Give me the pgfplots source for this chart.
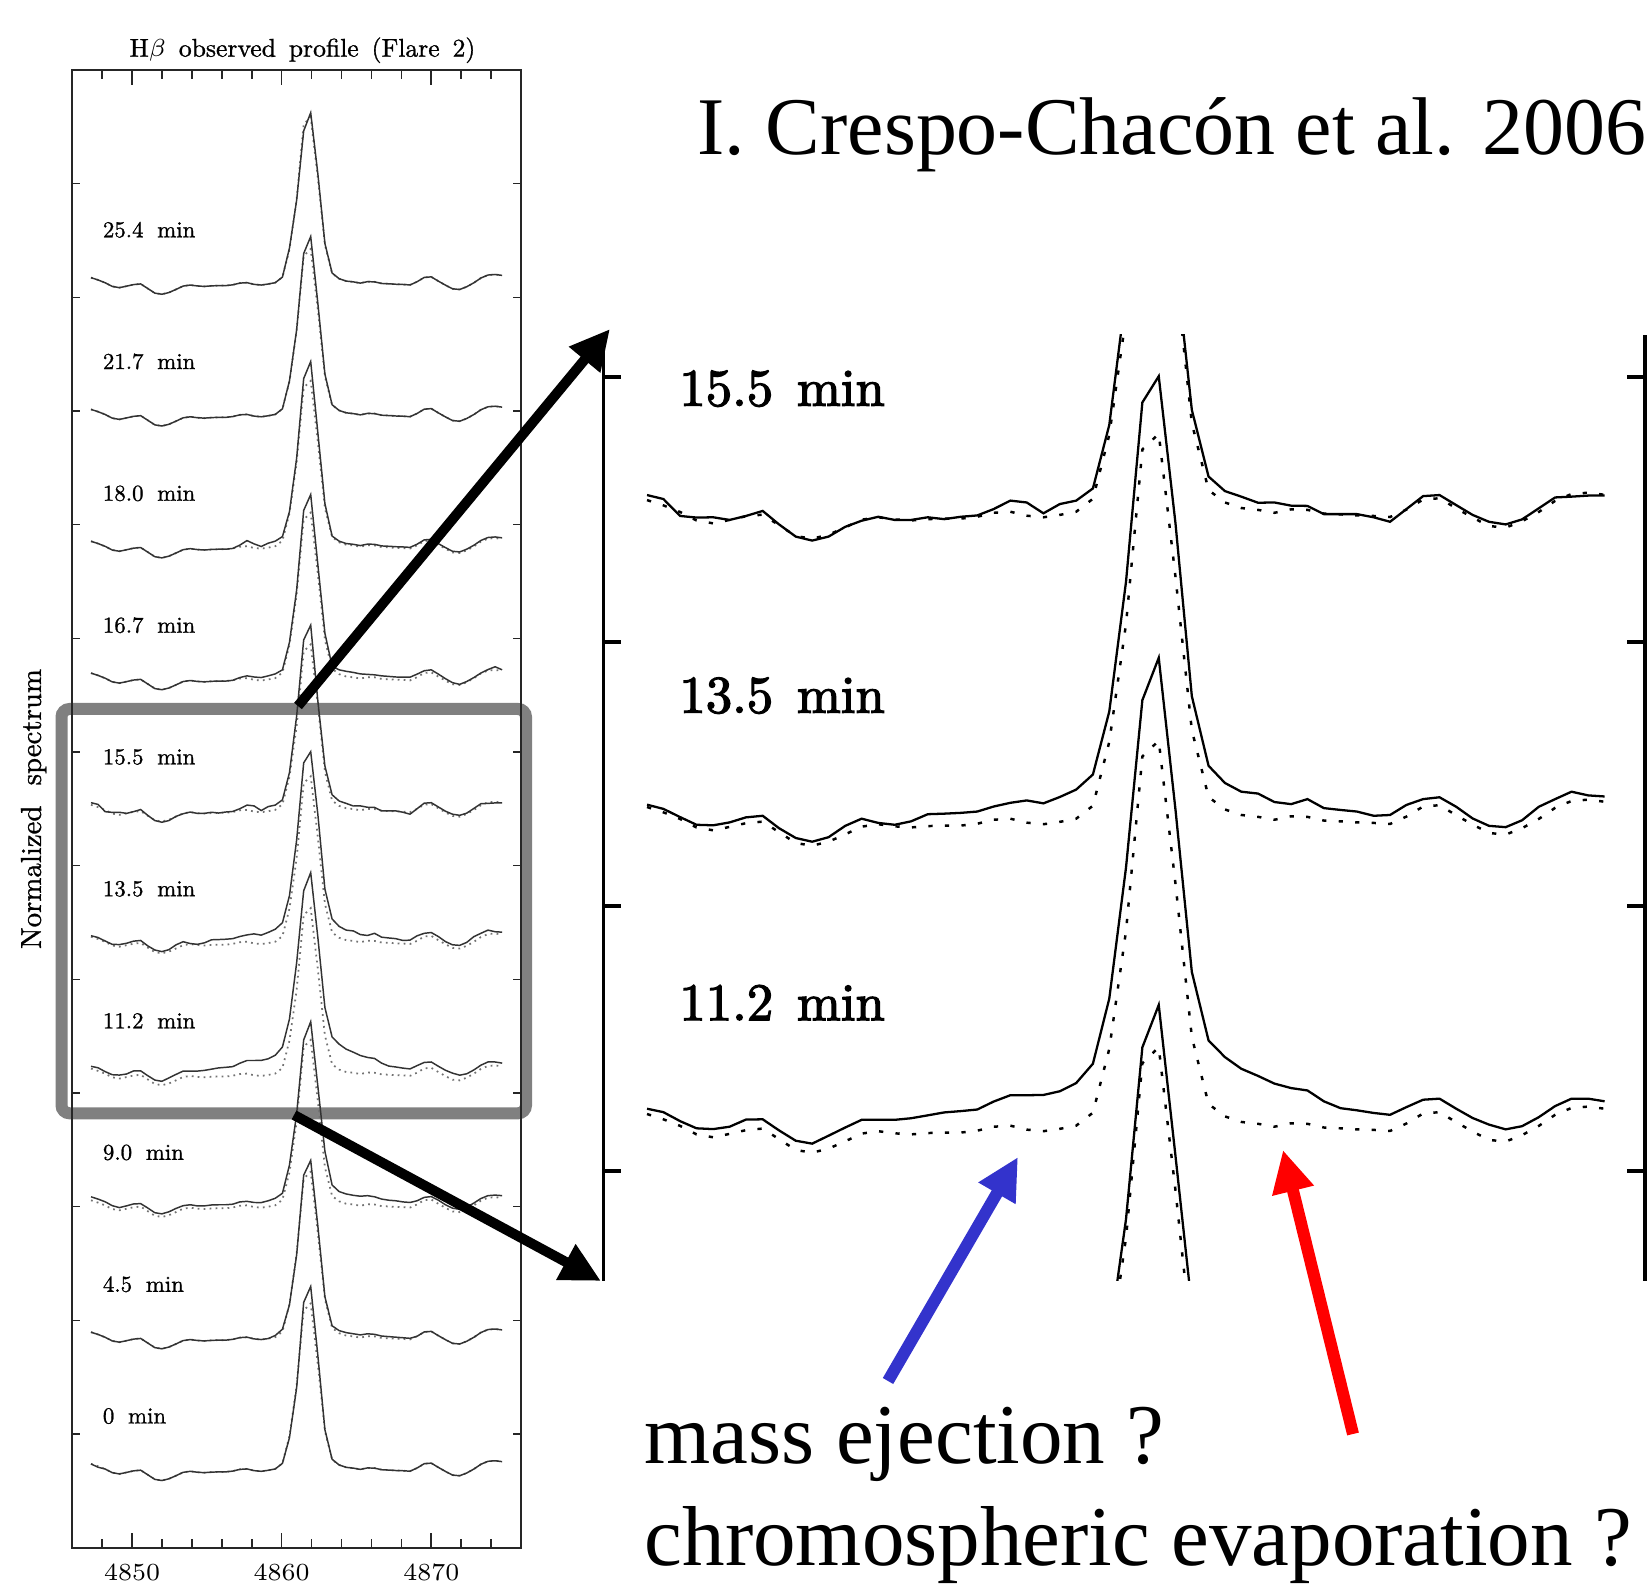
\documentclass[border=0pt]{standalone}
\usepackage{fontspec}
\usepackage{pgfplots}
\pgfplotsset{compat=1.18}
\usepackage{pgfplotstable}
\usetikzlibrary{arrows.meta}
\newfontfamily\timesfont{Liberation Serif}
\newfontfamily\heavylm{lmroman10-regular.otf}[FakeBold=2.5]
\newfontfamily\semilm{lmroman10-regular.otf}[FakeBold=1]
\definecolor{myblue}{RGB}{51,51,204}
\definecolor{boxgray}{RGB}{128,128,128}

\pgfplotstableread{
x d s0 s45 s90 s112 s135 s155 s167 s180 s217 s254
4847.25 0.069 0.069 0.069 0.100 0.089 0.078 0.088 0.069 0.069 0.069 0.069
4847.72 0.049 0.040 0.049 0.080 0.076 0.062 0.073 0.049 0.049 0.049 0.049
4848.20 0.024 0.024 0.024 0.056 0.042 0.031 0.009 0.024 0.024 0.024 0.024
4848.67 -0.008 -0.008 -0.008 0.022 0.015 0.002 0.003 -0.008 -0.008 -0.008 -0.008
4849.15 -0.019 -0.019 -0.019 0.005 0.012 0.000 0.004 -0.019 -0.019 -0.019 -0.019
4849.62 -0.006 -0.006 -0.006 0.020 0.021 0.011 -0.006 -0.006 -0.006 -0.006 -0.006
4850.09 0.008 0.008 0.008 0.037 0.048 0.030 0.009 0.008 0.008 0.008 0.008
4850.57 0.014 0.014 0.014 0.040 0.049 0.036 0.028 0.014 0.014 0.014 0.014
4851.04 -0.026 -0.026 -0.026 0.002 0.007 -0.011 -0.023 -0.026 -0.026 -0.026 -0.026
4851.52 -0.067 -0.067 -0.067 -0.040 -0.032 -0.048 -0.069 -0.067 -0.067 -0.067 -0.067
4851.99 -0.077 -0.077 -0.077 -0.050 -0.043 -0.062 -0.084 -0.077 -0.077 -0.077 -0.077
4852.46 -0.062 -0.062 -0.062 -0.032 -0.013 -0.045 -0.069 -0.062 -0.062 -0.062 -0.062
4852.94 -0.034 -0.034 -0.034 -0.002 0.018 -0.002 -0.032 -0.034 -0.034 -0.034 -0.034
4853.41 -0.005 -0.005 -0.005 0.022 0.047 0.025 -0.009 -0.005 -0.005 -0.005 -0.005
4853.89 0.004 0.004 0.004 0.030 0.047 0.009 0.006 0.004 0.004 0.004 0.004
4854.36 -0.004 -0.004 -0.004 0.020 0.047 0.002 -0.006 -0.004 -0.004 -0.004 -0.004
4854.83 -0.008 -0.008 -0.008 0.020 0.053 0.015 -0.006 -0.008 -0.008 -0.008 -0.008
4855.31 -0.003 -0.003 -0.003 0.028 0.064 0.042 0.004 -0.003 -0.003 -0.003 -0.003
4855.78 -0.001 -0.001 -0.001 0.030 0.075 0.044 -0.003 -0.001 -0.001 -0.001 -0.001
4856.26 -0.001 -0.001 -0.001 0.030 0.080 0.047 0.006 -0.001 -0.001 -0.001 -0.001
4856.73 0.006 0.006 0.006 0.035 0.086 0.052 0.011 0.006 0.006 0.006 0.006
4857.20 0.021 0.021 0.021 0.055 0.116 0.071 0.035 0.030 0.035 0.021 0.021
4857.68 0.025 0.025 0.025 0.060 0.140 0.085 0.067 0.045 0.075 0.025 0.025
4858.15 0.010 0.010 0.010 0.050 0.140 0.094 0.060 0.035 0.046 0.010 0.010
4858.63 0.004 0.004 0.004 0.049 0.141 0.083 0.019 0.030 0.023 0.004 0.004
4859.10 0.013 0.013 0.013 0.065 0.155 0.107 0.054 0.045 0.052 0.013 0.013
4859.57 0.025 0.025 0.040 0.087 0.186 0.135 0.067 0.062 0.070 0.025 0.025
4860.05 0.074 0.074 0.095 0.131 0.259 0.192 0.113 0.098 0.110 0.074 0.074
4860.52 0.315 0.300 0.310 0.380 0.505 0.430 0.353 0.340 0.330 0.320 0.330
4861.00 0.760 0.740 0.750 0.830 1.000 0.920 0.850 0.800 0.800 0.770 0.750
4861.47 1.420 1.490 1.450 1.480 1.633 1.598 1.520 1.500 1.500 1.440 1.360
4861.94 1.480 1.630 1.580 1.640 1.793 1.697 1.650 1.640 1.650 1.590 1.520
4862.42 0.940 1.020 1.000 1.070 1.220 1.142 0.980 1.020 1.020 1.000 0.980
4862.89 0.360 0.370 0.380 0.500 0.606 0.488 0.410 0.420 0.400 0.380 0.370
4863.37 0.107 0.110 0.125 0.204 0.347 0.225 0.158 0.130 0.115 0.110 0.110
4863.84 0.060 0.060 0.083 0.146 0.284 0.160 0.103 0.098 0.070 0.060 0.060
4864.31 0.039 0.039 0.065 0.125 0.240 0.127 0.082 0.085 0.049 0.039 0.039
4864.79 0.032 0.032 0.055 0.113 0.213 0.120 0.059 0.075 0.042 0.032 0.032
4865.26 0.021 0.021 0.045 0.105 0.184 0.088 0.060 0.062 0.031 0.021 0.021
4865.74 0.034 0.034 0.055 0.110 0.167 0.080 0.048 0.058 0.044 0.034 0.034
4866.21 0.032 0.032 0.050 0.100 0.158 0.099 0.047 0.054 0.042 0.032 0.032
4866.68 0.018 0.018 0.035 0.080 0.117 0.065 0.016 0.045 0.028 0.018 0.018
4867.16 0.015 0.015 0.030 0.070 0.091 0.058 0.016 0.040 0.025 0.015 0.015
4867.63 0.011 0.011 0.025 0.065 0.083 0.052 0.016 0.035 0.021 0.011 0.011
4868.11 0.009 0.009 0.020 0.055 0.073 0.036 0.004 0.033 0.019 0.009 0.009
4868.58 0.005 0.005 0.015 0.050 0.066 0.039 -0.013 0.033 0.015 0.005 0.005
4869.05 0.033 0.033 0.033 0.065 0.095 0.077 0.035 0.060 0.043 0.033 0.033
4869.53 0.071 0.071 0.071 0.095 0.123 0.099 0.084 0.090 0.081 0.071 0.071
4870.00 0.076 0.076 0.076 0.102 0.127 0.106 0.088 0.098 0.086 0.076 0.076
4870.48 0.038 0.038 0.038 0.070 0.089 0.070 0.050 0.060 0.048 0.038 0.038
4870.95 0.003 0.003 0.003 0.030 0.054 0.026 0.013 0.020 0.013 0.003 0.003
4871.42 -0.029 -0.029 -0.029 0.000 0.029 -0.002 -0.013 -0.015 -0.019 -0.029 -0.029
4871.90 -0.035 -0.035 -0.035 -0.010 0.011 -0.007 -0.023 -0.030 -0.025 -0.035 -0.035
4872.37 -0.011 -0.011 -0.011 0.010 0.023 0.019 -0.004 -0.005 -0.001 -0.011 -0.011
4872.85 0.024 0.024 0.024 0.045 0.057 0.070 0.038 0.030 0.034 0.024 0.024
4873.32 0.066 0.066 0.066 0.085 0.099 0.099 0.079 0.070 0.076 0.066 0.066
4873.79 0.092 0.092 0.092 0.110 0.127 0.127 0.082 0.100 0.102 0.092 0.092
4874.27 0.097 0.097 0.097 0.115 0.127 0.113 0.086 0.125 0.107 0.097 0.097
4874.74 0.089 0.089 0.089 0.110 0.117 0.109 0.086 0.098 0.099 0.089 0.089
}\spec

\pgfplotsset{
  lsol/.style={black!80, line width=0.42pt},
  ldot/.style={black!55, line width=0.5pt, dash pattern=on 0.5pt off 1.2pt},
  rsol/.style={black, line width=0.65pt},
  rdot/.style={black, line width=0.7pt, dash pattern=on 1.2pt off 3.5pt},
}

\begin{document}
\begin{tikzpicture}
\path[use as bounding box] (0,0) rectangle (16.51,15.85);

% gray zoom box
\draw[boxgray, line width=0.12cm, rounded corners=0.08cm] (0.615,4.717) rectangle (5.26,8.76);

% ---------------- left panel ----------------
\begin{axis}[at={(0.723cm,0.373cm)}, anchor=south west, scale only axis,
  width=4.487cm, height=14.777cm,
  xmin=4846, xmax=4876, ymin=0, ymax=13,
  xtick={4850,4860,4870}, xticklabels={4850,4860,4870},
  minor xtick={4848,4850,...,4874},
  ytick=\empty,
  extra y ticks={1,2,...,12}, extra y tick labels={},
  extra y tick style={major tick length=0.08cm},
  major tick length=0.15cm, minor tick length=0.09cm,
  tick align=inside,
  axis line style={line width=0.5pt, black!85},
  tick style={line width=0.45pt, black!85},
  xticklabel style={font=\fontsize{7}{8}\selectfont, yshift=-0.04cm},
]
\addplot[ldot] table[x=x, y expr=\thisrow{d}+0.668] {\spec};
\addplot[lsol] table[x=x, y expr=\thisrow{s0}+0.668] {\spec};
\addplot[ldot] table[x=x, y expr=\thisrow{d}+1.827] {\spec};
\addplot[lsol] table[x=x, y expr=\thisrow{s45}+1.827] {\spec};
\addplot[ldot] table[x=x, y expr=\thisrow{d}+2.987] {\spec};
\addplot[lsol] table[x=x, y expr=\thisrow{s90}+2.987] {\spec};
\addplot[ldot] table[x=x, y expr=\thisrow{d}+4.146] {\spec};
\addplot[lsol] table[x=x, y expr=\thisrow{s112}+4.146] {\spec};
\addplot[ldot] table[x=x, y expr=\thisrow{d}+5.306] {\spec};
\addplot[lsol] table[x=x, y expr=\thisrow{s135}+5.306] {\spec};
\addplot[ldot] table[x=x, y expr=\thisrow{d}+6.466] {\spec};
\addplot[lsol] table[x=x, y expr=\thisrow{s155}+6.466] {\spec};
\addplot[ldot] table[x=x, y expr=\thisrow{d}+7.625] {\spec};
\addplot[lsol] table[x=x, y expr=\thisrow{s167}+7.625] {\spec};
\addplot[ldot] table[x=x, y expr=\thisrow{d}+8.785] {\spec};
\addplot[lsol] table[x=x, y expr=\thisrow{s180}+8.785] {\spec};
\addplot[ldot] table[x=x, y expr=\thisrow{d}+9.945] {\spec};
\addplot[lsol] table[x=x, y expr=\thisrow{s217}+9.945] {\spec};
\addplot[ldot] table[x=x, y expr=\thisrow{d}+11.104] {\spec};
\addplot[lsol] table[x=x, y expr=\thisrow{s254}+11.104] {\spec};
\begin{scope}[every node/.style={anchor=west, inner sep=0pt, font=\semilm\fontsize{6.5}{7}\selectfont}]
\node at (axis cs:4848.0,1.158) {0\hspace{0.6em}min};
\node at (axis cs:4848.0,2.317) {4.5\hspace{0.6em}min};
\node at (axis cs:4848.0,3.477) {9.0\hspace{0.6em}min};
\node at (axis cs:4848.0,4.636) {11.2\hspace{0.6em}min};
\node at (axis cs:4848.0,5.796) {13.5\hspace{0.6em}min};
\node at (axis cs:4848.0,6.956) {15.5\hspace{0.6em}min};
\node at (axis cs:4848.0,8.115) {16.7\hspace{0.6em}min};
\node at (axis cs:4848.0,9.275) {18.0\hspace{0.6em}min};
\node at (axis cs:4848.0,10.435) {21.7\hspace{0.6em}min};
\node at (axis cs:4848.0,11.594) {25.4\hspace{0.6em}min};
\end{scope}
\end{axis}

\node[anchor=base, inner sep=0pt, font=\semilm\fontsize{7.3}{8}\selectfont] at (3.025,15.283)
  {H$\beta$\hspace{0.5em}observed\hspace{0.5em}profile\hspace{0.5em}(Flare\hspace{0.5em}2)};
\node[rotate=90, inner sep=0pt, font=\semilm\fontsize{8.2}{9}\selectfont] at (0.337,7.76)
  {Normalized\hspace{0.7em}spectrum};

% ---------------- right (magnified) panel ----------------
\begin{axis}[at={(6.035cm,3.04cm)}, anchor=south west, scale only axis,
  width=10.415cm, height=9.46cm,
  xmin=4846, xmax=4875.9, ymin=3.584, ymax=7.159,
  separate axis lines,
  x axis line style={draw=none},
  y axis line style={line width=1.1pt, black},
  xtick=\empty,
  ytick={4,5,6,7}, yticklabels={},
  major tick length=0.18cm, tick align=inside,
  tick style={line width=1.2pt, black},
]
\addplot[rdot] table[x=x, y expr=\thisrow{d}+2.987] {\spec};
\addplot[rsol] table[x=x, y expr=\thisrow{s90}+2.987] {\spec};
\addplot[rdot] table[x=x, y expr=\thisrow{d}+4.146] {\spec};
\addplot[rsol] table[x=x, y expr=\thisrow{s112}+4.146] {\spec};
\addplot[rdot] table[x=x, y expr=\thisrow{d}+5.306] {\spec};
\addplot[rsol] table[x=x, y expr=\thisrow{s135}+5.306] {\spec};
\addplot[rdot] table[x=x, y expr=\thisrow{d}+6.466] {\spec};
\addplot[rsol] table[x=x, y expr=\thisrow{s155}+6.466] {\spec};
\begin{scope}[every node/.style={anchor=west, inner sep=0pt, font=\heavylm\fontsize{15}{17}\selectfont}]
\node at (axis cs:4848.16,4.636) {11.2\hspace{0.45em}min};
\node at (axis cs:4848.16,5.796) {13.5\hspace{0.45em}min};
\node at (axis cs:4848.16,6.956) {15.5\hspace{0.45em}min};
\end{scope}
\end{axis}

% arrows
\draw[black, line width=0.1cm, -{Triangle[length=0.4cm,width=0.38cm]}] (2.98,8.79) -- (6.10,12.56);
\draw[black, line width=0.1cm, -{Triangle[length=0.4cm,width=0.38cm]}] (2.94,4.70) -- (6.01,3.04);
\draw[myblue, line width=0.12cm, -{Triangle[length=0.42cm,width=0.40cm]}] (8.88,2.04) -- (10.18,4.28);
\draw[red, line width=0.12cm, -{Triangle[length=0.42cm,width=0.40cm]}] (13.53,1.51) -- (12.83,4.35);

% texts
\node[anchor=base west, inner sep=0pt, font=\timesfont\fontsize{23.3}{26}\selectfont] at (6.97,14.30)
  {I. Crespo-Chacón et al. 2006};
\node[anchor=base west, inner sep=0pt, font=\timesfont\fontsize{24.2}{28}\selectfont] at (6.44,1.213)
  {mass ejection ?};
\node[anchor=base west, inner sep=0pt, font=\timesfont\fontsize{24.2}{28}\selectfont] at (6.44,0.191)
  {chromospheric evaporation ?};
\end{tikzpicture}
\end{document}
